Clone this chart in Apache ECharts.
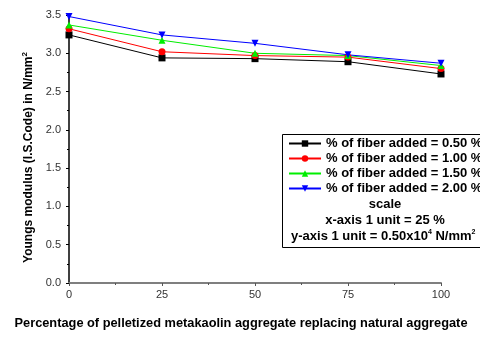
<!DOCTYPE html>
<html>
<head>
<meta charset="utf-8">
<script src="https://cdn.jsdelivr.net/npm/echarts@6/dist/echarts.min.js"></script>
<style>
  html, body { margin: 0; padding: 0; background: #fff; }
  #chart { width: 480px; height: 338px; }
</style>
</head>
<body>
<div id="chart"></div>
<script>
// data
const replacement = [0, 25, 50, 75, 100];
const fiber050 = [3.24, 2.94, 2.93, 2.89, 2.73];
const fiber100 = [3.32, 3.02, 2.97, 2.95, 2.80];
const fiber150 = [3.37, 3.17, 3.00, 2.97, 2.84];
const fiber200 = [3.48, 3.24, 3.13, 2.98, 2.87];
const seriesNames = [
  '% of fiber added = 0.50 %',
  '% of fiber added = 1.00 %',
  '% of fiber added = 1.50 %',
  '% of fiber added = 2.00 %'
];

const font = 'Arial, "Liberation Sans", sans-serif';
const chart = echarts.init(document.getElementById('chart'));

const makeSeries = (name, values, color, symbol, rotate) => ({
  name,
  type: 'line',
  data: replacement.map((x, i) => [x, values[i]]),
  symbol,
  symbolSize: 7,
  symbolRotate: rotate || 0,
  showSymbol: true,
  lineStyle: { color, width: 1 },
  itemStyle: { color },
  animation: false
});

const options = {
  backgroundColor: '#fff',
  animation: false,
  grid: { left: 69, right: 39, top: 15, bottom: 55 },
  legend: {
    orient: 'vertical',
    left: 283,
    top: 132,
    itemWidth: 32,
    itemHeight: 8,
    itemGap: 2,
    textStyle: { fontFamily: font, fontWeight: 'bold', fontSize: 13, color: '#000' },
    data: seriesNames
  },
  xAxis: {
    type: 'value',
    min: 0,
    max: 100,
    interval: 25,
    name: 'Percentage of pelletized metakaolin aggregate replacing natural aggregate',
    nameLocation: 'middle',
    nameGap: 34,
    nameTextStyle: { fontFamily: font, fontWeight: 'bold', fontSize: 12.8, color: '#000', padding: [0, 28, 0, 0] },
    axisLine: { lineStyle: { color: '#7f7f7f', width: 2 } },
    axisTick: { show: true, length: 3, lineStyle: { color: '#555' } },
    minorTick: { show: true, splitNumber: 2, length: 2, lineStyle: { color: '#555' } },
    axisLabel: { fontFamily: font, fontSize: 11, color: '#333', margin: 6 },
    splitLine: { show: false }
  },
  yAxis: {
    type: 'value',
    min: 0,
    max: 3.5,
    interval: 0.5,
    name: '{b|Youngs modulus (I.S.Code) in N/mm}{s|2}',
    nameLocation: 'middle',
    nameGap: 33,
    nameRotate: 90,
    nameTextStyle: {
      rich: {
        b: { fontFamily: font, fontWeight: 'bold', fontSize: 12, color: '#000' },
        s: { fontFamily: font, fontWeight: 'bold', fontSize: 8, color: '#000', verticalAlign: 'top', padding: [0, 17, 7, 0] }
      }
    },
    axisLine: { show: true, lineStyle: { color: '#000', width: 1.5 } },
    axisTick: { show: true, length: 3, lineStyle: { color: '#000' } },
    minorTick: { show: true, splitNumber: 2, length: 2, lineStyle: { color: '#000' } },
    axisLabel: {
      fontFamily: font, fontSize: 11, color: '#333', margin: 8,
      formatter: v => v.toFixed(1)
    },
    splitLine: { show: false }
  },
  graphic: [
    {
      type: 'rect',
      shape: { x: 282.5, y: 134.5, width: 220, height: 113 },
      style: { fill: 'none', stroke: '#000', lineWidth: 1 },
      z: 0
    },
    {
      type: 'text',
      x: 385, y: 204,
      style: { text: 'scale', font: 'bold 13px ' + font, fill: '#000', align: 'center', verticalAlign: 'middle' }
    },
    {
      type: 'text',
      x: 385, y: 220,
      style: { text: 'x-axis 1 unit = 25 %', font: 'bold 13px ' + font, fill: '#000', align: 'center', verticalAlign: 'middle' }
    },
    {
      type: 'text',
      x: 291, y: 236,
      style: {
        text: '{b|y-axis 1 unit = 0.50x10}{s|4}{b| N/mm}{s|2}',
        verticalAlign: 'middle',
        rich: {
          b: { font: 'bold 13px ' + font, fill: '#000' },
          s: { font: 'bold 7px ' + font, fill: '#000', verticalAlign: 'top', padding: [0, 0, 7, 0] }
        }
      }
    }
  ],
  series: [
    makeSeries(seriesNames[0], fiber050, '#000000', 'rect'),
    makeSeries(seriesNames[1], fiber100, '#ff0000', 'circle'),
    makeSeries(seriesNames[2], fiber150, '#00ee00', 'triangle'),
    makeSeries(seriesNames[3], fiber200, '#0000ff', 'triangle', 180)
  ]
};

chart.setOption(options);
</script>
</body>
</html>
